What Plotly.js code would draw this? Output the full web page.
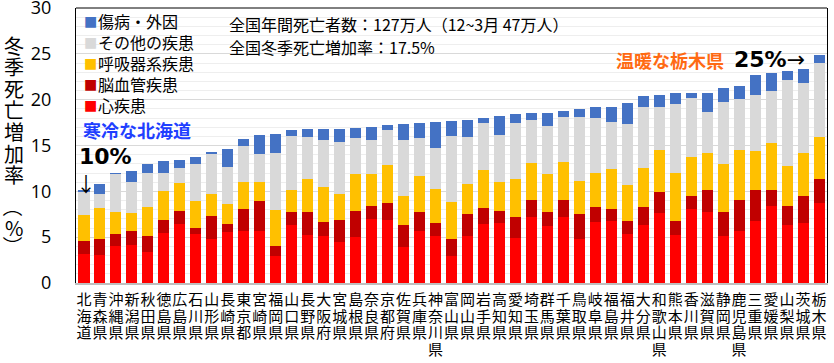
<!DOCTYPE html>
<html>
<head>
<meta charset="utf-8">
<script src="https://cdn.plot.ly/plotly-3.0.1.min.js"></script>
<style>
  html, body { margin: 0; padding: 0; background: #fff; }
  #chart { width: 834px; height: 363px; }
</style>
</head>
<body>
<div id="chart"></div>
<script>
// ---- Data ----
const categories = ['北海道','青森県','沖縄県','新潟県','秋田県','徳島県','広島県','石川県','山形県','長崎県',
  '東京都','宮崎県','福岡県','山口県','長野県','大阪府','宮城県','島根県','奈良県','京都府',
  '佐賀県','兵庫県','神奈川県','富山県','岡山県','岩手県','高知県','愛知県','埼玉県','群馬県',
  '千葉県','鳥取県','岐阜県','福島県','福井県','大分県','和歌山県','熊本県','香川県','滋賀県',
  '静岡県','鹿児島県','三重県','愛媛県','山梨県','茨城県','栃木県'];

const heart    = [3.2,3.1,4.0,4.1,3.4,5.5,6.4,5.3,4.85,5.55,5.7,5.7,2.9,6.35,5.25,5.1,4.45,5.0,7.0,6.85,
  3.9,5.7,5.1,2.9,5.1,6.45,6.6,4.9,7.15,6.2,7.15,4.75,6.65,6.8,5.35,6.3,7.65,5.25,8.1,7.75,
  5.1,5.7,6.8,8.45,6.35,6.5,8.75];
const cerebro  = [1.4,1.7,1.3,1.6,1.7,1.4,1.5,0.75,2.5,0.85,2.35,3.25,1.15,1.35,2.45,1.6,2.45,2.9,1.45,1.9,
  2.45,2.0,1.45,1.9,2.45,1.7,1.3,2.25,1.95,1.5,1.9,2.8,1.6,1.3,1.4,1.95,2.3,1.55,1.35,2.35,
  2.6,3.4,3.3,1.75,2.1,2.95,2.6];
const resp     = [2.8,3.4,2.5,1.9,3.15,3.1,3.0,2.95,2.35,2.25,3.0,2.1,3.9,2.45,3.65,3.8,2.8,4.0,3.45,4.15,
  3.15,4.0,3.7,4.05,3.3,4.2,3.1,4.2,4.0,4.15,4.1,3.55,3.8,4.3,3.9,4.35,4.55,5.25,4.35,4.05,
  5.3,5.45,4.25,5.1,4.3,4.7,4.55];
const other    = [2.5,1.5,4.1,3.4,3.75,2.05,1.6,4.0,4.4,4.0,3.9,3.05,6.25,5.9,4.55,5.1,5.65,3.9,3.65,3.75,
  6.1,4.15,4.5,7.2,5.1,5.1,5.1,6.15,4.7,5.25,4.95,7.0,6.0,5.2,6.75,6.65,4.75,7.45,6.35,4.55,
  6.8,5.5,6.15,5.7,9.45,7.7,8.15];
const injury   = [0.3,1.1,0.05,1.2,1.0,1.3,0.95,0.75,0.15,2.0,0.8,2.05,2.1,0.6,0.85,1.15,1.5,1.1,1.5,0.55,
  1.7,1.6,2.8,1.65,1.8,0.5,2.1,0.9,0.7,1.5,0.65,0.9,1.1,1.6,2.2,1.15,1.3,1.2,0.6,2.0,
  1.5,1.45,2.15,1.9,0.95,1.55,0.8];

const seriesNames  = ['心疾患','脳血管疾患','呼吸器系疾患','その他の疾患','傷病・外因'];
const seriesValues = [heart, cerebro, resp, other, injury];
const seriesColors = ['#FF0000','#C00000','#FFC000','#D9D9D9','#4472C4'];

const yTitle = '冬季死亡増加率（%）';
const yTicks = [0,5,10,15,20,25,30];
const infoLines = ['全国年間死亡者数：127万人（12~3月 47万人）','全国冬季死亡増加率：17.5%'];

// ---- Styling ----
const JP = '"Noto Sans CJK JP", "Noto Sans", sans-serif';
const PL = 76, PW = 751, PB = 283.3, PH = 275.3;
const px2x = p => (p - PL) / PW;
const py2y = p => (PB - p) / PH;
const XLABEL_SIZE = 15, XLABEL_PITCH = 16.7;   // vertical writing: one character per line

const traces = seriesNames.map((name, i) => ({
  type: 'bar',
  name: name,
  x: categories,
  y: seriesValues[i],
  marker: { color: seriesColors[i], line: { width: 0 } },
  hoverinfo: 'x+y+name'
}));

const annotations = [];

// vertical y-axis title, one character per line
Array.from(yTitle).forEach((ch, k) => {
  const isParen = (ch === '（' || ch === '）');
  let yc;
  if (k < 7) yc = 45 + k * 21.6;
  else if (ch === '（') yc = 207;
  else if (ch === '%') yc = 227;
  else yc = 246;
  annotations.push({
    xref: 'paper', yref: 'paper', x: 0, y: 1,
    xshift: -62, yshift: -(yc - 8),
    text: ch, showarrow: false, borderpad: 0,
    xanchor: 'center', yanchor: 'middle',
    textangle: isParen ? 90 : 0,
    font: { family: JP, size: 20, color: '#000' }
  });
});

// legend (drawn as text: top entry = last series)
seriesNames.slice().reverse().forEach((name, k) => {
  const color = seriesColors[seriesNames.length - 1 - k];
  const yc = 21 + k * 21.1;
  annotations.push({
    xref: 'paper', yref: 'paper', x: px2x(90), y: py2y(yc),
    xanchor: 'center', yanchor: 'middle', showarrow: false, borderpad: 0,
    text: '■', font: { family: '"DejaVu Sans", sans-serif', size: 14, color: color }
  });
  annotations.push({
    xref: 'paper', yref: 'paper', x: px2x(97), y: py2y(yc),
    xanchor: 'left', yanchor: 'middle', showarrow: false, borderpad: 0,
    text: name, font: { family: JP, size: 16, color: '#000' }
  });
});

// info text
infoLines.forEach((t, k) => {
  annotations.push({
    xref: 'paper', yref: 'paper', x: px2x(228), y: py2y(k === 0 ? 24.5 : 47),
    xanchor: 'left', yanchor: 'middle', showarrow: false, borderpad: 0,
    text: t, font: { family: JP, size: 16, color: '#000' }
  });
});

// callouts
annotations.push({
  xref: 'paper', yref: 'paper', x: px2x(82), y: py2y(130), xanchor: 'left', yanchor: 'middle',
  showarrow: false, borderpad: 0, text: '<b>寒冷な北海道</b>',
  font: { family: JP, size: 18, color: '#1F3FFF' }
});
annotations.push({
  xref: 'paper', yref: 'paper', x: px2x(77.5), y: py2y(157), xanchor: 'left', yanchor: 'middle',
  showarrow: false, borderpad: 0, text: '<b>10%</b>',
  font: { family: '"DejaVu Sans", sans-serif', size: 22, color: '#000' }
});
annotations.push({
  xref: 'paper', yref: 'paper', x: px2x(86), y: py2y(184), xanchor: 'center', yanchor: 'middle',
  showarrow: false, borderpad: 0, text: '↓',
  font: { family: JP, size: 20, color: '#000' }
});
annotations.push({
  xref: 'paper', yref: 'paper', x: px2x(615), y: py2y(60), xanchor: 'left', yanchor: 'middle',
  showarrow: false, borderpad: 0, text: '<b>温暖な栃木県</b>',
  font: { family: JP, size: 18, color: '#FF6A13' }
});
annotations.push({
  xref: 'paper', yref: 'paper', x: px2x(733), y: py2y(60), xanchor: 'left', yanchor: 'middle',
  showarrow: false, borderpad: 0, text: '<b>25%</b>→',
  font: { family: '"DejaVu Sans", sans-serif', size: 22, color: '#000' }
});

const layout = {
  width: 834, height: 363,
  margin: { l: PL, r: 834 - PL - PW, t: 8, b: 80, pad: 0 },
  paper_bgcolor: '#fff', plot_bgcolor: '#fff',
  barmode: 'stack',
  bargap: 0.31,
  showlegend: false,
  xaxis: {
    type: 'category',
    tickmode: 'array',
    tickvals: categories,
    ticktext: categories.map(c => Array.from(c).join('<br>')),
    tickangle: 0,
    ticks: '',
    ticklabelstandoff: 2,
    tickfont: { family: JP, size: XLABEL_SIZE, color: '#000' },
    showgrid: false, zeroline: false,
    showline: true, linecolor: '#BFBFBF', linewidth: 2
  },
  yaxis: {
    range: [0, 30],
    tickvals: yTicks,
    ticktext: yTicks.map(String),
    ticks: '',
    ticklabelstandoff: 20,
    ticklabeloverflow: 'allow',
    tickfont: { family: '"Open Sans", sans-serif', size: 18, color: '#000' },
    showgrid: true, gridcolor: '#D9D9D9', gridwidth: 1,
    minor: { dtick: 1, showgrid: true, gridcolor: '#EEEEEE', gridwidth: 1 },
    zeroline: false,
    showline: true, linecolor: '#000', linewidth: 1, mirror: true
  },
  shapes: [{
    type: 'line', xref: 'paper', yref: 'paper', x0: 0, x1: 1, y0: 1, y1: 1,
    line: { color: '#000', width: 1 }
  }],
  annotations: annotations
};

// tighten the line pitch of the stacked-character x labels (Excel-like vertical text)
function tightenXLabels() {
  const scale = XLABEL_PITCH / (1.3 * XLABEL_SIZE);
  document.querySelectorAll('#chart .xtick text tspan.line').forEach(t => {
    const dy = t.getAttribute('dy');
    if (!dy) return;
    const m = /^(-?[\d.]+)em$/.exec(dy);
    if (m) {
      const v = parseFloat(m[1]);
      if (v !== 0) t.setAttribute('dy', (v * XLABEL_SIZE * scale).toFixed(2) + 'px');
    }
  });
}

Plotly.newPlot('chart', traces, layout, { staticPlot: true, displayModeBar: false })
  .then(gd => {
    tightenXLabels();
    gd.on('plotly_afterplot', tightenXLabels);
  });
</script>
</body>
</html>
